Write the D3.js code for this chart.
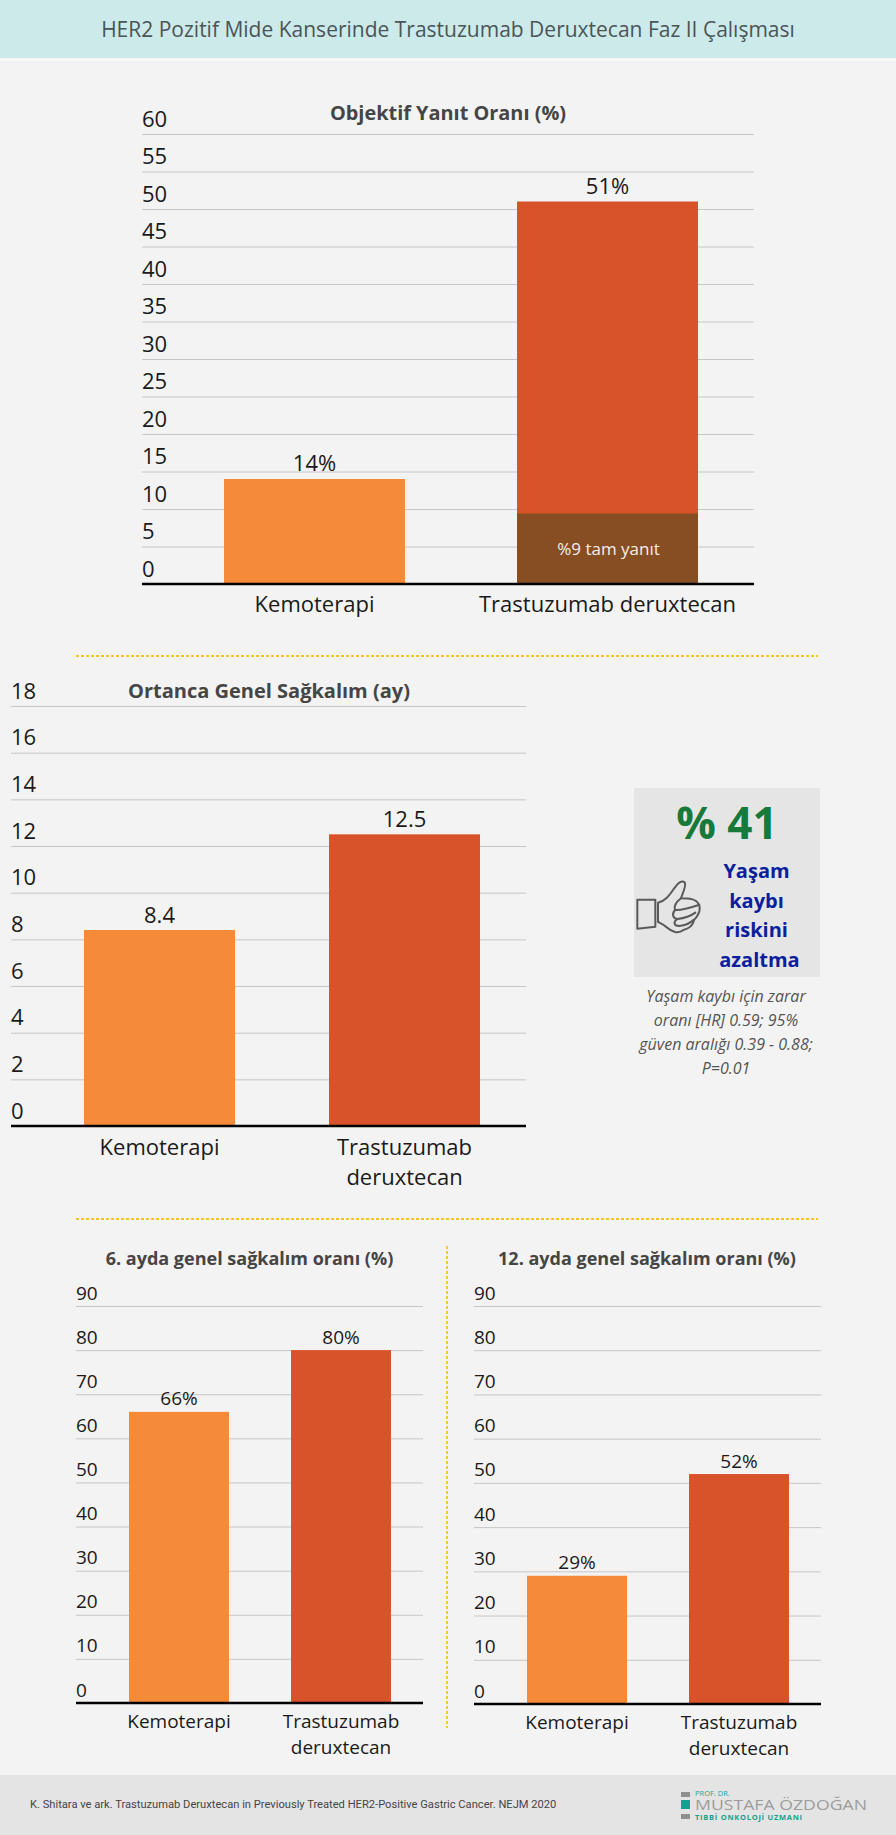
<!DOCTYPE html>
<html><head><meta charset="utf-8">
<script src="https://cdnjs.cloudflare.com/ajax/libs/d3/7.8.5/d3.min.js"></script>
<style>
html,body{margin:0;padding:0;background:#f3f3f3}
svg{display:block}
text{font-family:"Open Sans",sans-serif}
</style></head><body>
<svg id="c" width="896" height="1835"></svg>
<script>
const categories = ["Kemoterapi", "Trastuzumab deruxtecan"];
const responseValues = [14, 51];
const responseLabels = ["14%", "51%"];
const completeResponseValue = 9.4;
const completeResponseLabel = "%9 tam yanıt";
const responseTicks = [0,5,10,15,20,25,30,35,40,45,50,55,60];
const survivalValues = [8.4, 12.5];
const survivalLabels = ["8.4", "12.5"];
const survivalTicks = [0,2,4,6,8,10,12,14,16,18];
const sixMonthValues = [66, 80];
const sixMonthLabels = ["66%", "80%"];
const twelveMonthValues = [29, 52];
const twelveMonthLabels = ["29%", "52%"];
const rateTicks = [0,10,20,30,40,50,60,70,80,90];

const ORANGE="#f58a38", RED="#d9532a", BROWN="#874e24", INK="#1a1a1a", TITLE="#454545", GRID="#c6c6c6", GOLD="#f5c51f";
const svg=d3.select("#c");

function panel(o){
  const g=svg.append("g");
  const y=d3.scaleLinear().domain([0,d3.max(o.ticks)]).range([o.y0,o.y1]);
  const step=o.barRight-o.barLeft-o.barW;
  const p=(step-o.barW)/step;
  const x=d3.scaleBand().domain(categories)
    .range([o.barLeft-p*step,o.barRight+p*step]).padding(p);
  const ay=g.append("g").attr("transform",`translate(${o.x0},0)`)
    .call(d3.axisRight(y).tickValues(o.ticks).tickSize(o.x1-o.x0).tickFormat(d3.format("d")));
  ay.select(".domain").remove();
  ay.selectAll(".tick line").attr("stroke",GRID).attr("stroke-width",1);
  ay.selectAll(".tick text").attr("x",0).attr("dy",o.tickDy).attr("text-anchor","start")
    .attr("fill",INK).style("font-size",o.fs+"px");
  g.selectAll("rect.bar").data(o.values).join("rect").attr("class","bar")
    .attr("x",(d,i)=>x(categories[i])).attr("width",x.bandwidth())
    .attr("y",d=>y(d)).attr("height",d=>y(0)-y(d))
    .attr("fill",(d,i)=>i?RED:ORANGE);
  if(o.inner!=null){
    g.append("rect").attr("x",x(categories[1])).attr("width",x.bandwidth())
      .attr("y",y(o.inner)).attr("height",y(0)-y(o.inner)).attr("fill",BROWN);
    g.append("text").attr("x",x(categories[1])+x.bandwidth()/2+1).attr("y",y(o.inner/2)+6)
      .attr("text-anchor","middle").attr("fill","#f4f0e8").style("font-size","17px").text(o.innerLabel);
  }
  g.selectAll("text.val").data(o.labels).join("text").attr("class","val")
    .attr("x",(d,i)=>x(categories[i])+x.bandwidth()/2)
    .attr("y",(d,i)=>y(o.values[i])-o.valGap)
    .attr("text-anchor","middle").attr("fill",INK).style("font-size",o.fs+"px").text(d=>d);
  const ax=g.append("g").attr("transform",`translate(0,${o.y0})`)
    .call(d3.axisBottom(x).tickSize(0));
  ax.select(".domain").remove();
  ax.selectAll(".tick text").attr("fill",INK).style("font-size",o.fs+"px").attr("y",0).attr("dy",0)
    .each(function(d){
      const t=d3.select(this);t.text(null);
      const parts=o.wrap?d.split(" "):[d];
      parts.forEach((w,i)=>t.append("tspan").attr("x",0).attr("y",o.catBase+i*o.catLine).text(w));
    });
  g.append("line").attr("x1",o.x0).attr("x2",o.x1).attr("y1",o.y0).attr("y2",o.y0)
    .attr("stroke","#000").attr("stroke-width",2.4);
  g.append("text").attr("x",o.titleX).attr("y",o.titleY).attr("text-anchor","middle")
    .attr("fill",TITLE).style("font-size",o.titleFs+"px").style("font-weight",700).text(o.title);
}

svg.append("rect").attr("width",896).attr("height",58).attr("fill","#cdeaea");
svg.append("rect").attr("y",58).attr("width",896).attr("height",3).attr("fill","#f8f8f8");
svg.append("text").attr("x",448).attr("y",37).attr("text-anchor","middle").attr("fill","#4a5558")
  .style("font-size","21px").text("HER2 Pozitif Mide Kanserinde Trastuzumab Deruxtecan Faz II Çalışması");
svg.append("rect").attr("y",1775).attr("width",896).attr("height",60).attr("fill","#e4e4e4");
svg.append("text").attr("x",30).attr("y",1808).attr("fill","#444").style("font-family","Roboto").style("font-size","11.15px")
  .text("K. Shitara ve ark. Trastuzumab Deruxtecan in Previously Treated HER2-Positive Gastric Cancer. NEJM 2020");

function dash(x1,y1,x2,y2){svg.append("line").attr("x1",x1).attr("y1",y1).attr("x2",x2).attr("y2",y2)
  .attr("stroke",GOLD).attr("stroke-width",1.8).attr("stroke-dasharray","3 2");}
dash(76,656,818,656);dash(76,1219,818,1219);dash(447,1246,447,1728);

panel({ticks:responseTicks,values:responseValues,labels:responseLabels,inner:completeResponseValue,innerLabel:completeResponseLabel,
  x0:142,x1:754,y0:584,y1:134,barLeft:224,barRight:698,barW:181,fs:22,tickDy:"-8px",valGap:8,catBase:28,catLine:30,wrap:false,
  title:"Objektif Yanıt Oranı (%)",titleX:448,titleY:120,titleFs:19.9});
panel({ticks:survivalTicks,values:survivalValues,labels:survivalLabels,
  x0:11,x1:526,y0:1126,y1:706,barLeft:84,barRight:480,barW:151,fs:22,tickDy:"-8px",valGap:7,catBase:29,catLine:30,wrap:true,
  title:"Ortanca Genel Sağkalım (ay)",titleX:269,titleY:698,titleFs:20});
panel({ticks:rateTicks,values:sixMonthValues,labels:sixMonthLabels,
  x0:76,x1:423,y0:1703,y1:1306,barLeft:129,barRight:391,barW:100,fs:19,tickDy:"-7px",valGap:6.5,catBase:25,catLine:25.5,wrap:true,
  title:"6. ayda genel sağkalım oranı (%)",titleX:249.5,titleY:1265,titleFs:18});
panel({ticks:rateTicks,values:twelveMonthValues,labels:twelveMonthLabels,
  x0:474,x1:821,y0:1704,y1:1306,barLeft:527,barRight:789,barW:100,fs:19,tickDy:"-7px",valGap:6.5,catBase:25,catLine:25.5,wrap:true,
  title:"12. ayda genel sağkalım oranı (%)",titleX:647,titleY:1265,titleFs:18});

svg.append("rect").attr("x",634).attr("y",788).attr("width",186).attr("height",189).attr("fill","#e5e5e5");
svg.append("text").attr("x",727).attr("y",839).attr("text-anchor","middle").attr("fill","#17793a")
  .style("font-size","44px").style("font-weight",700).text("% 41");
["Yaşam","kaybı","riskini","azaltma"].forEach((t,i)=>svg.append("text")
  .attr("x",i==3?759.5:756.5).attr("y",878+i*29.5).attr("text-anchor","middle").attr("fill","#0b1f9c")
  .style("font-size","20px").style("font-weight",700).text(t));
["Yaşam kaybı için zarar","oranı [HR] 0.59; 95%","güven aralığı 0.39 - 0.88;","P=0.01"].forEach((t,i)=>svg.append("text")
  .attr("x",726).attr("y",1002+i*24).attr("text-anchor","middle").attr("fill","#555")
  .style("font-size","16px").style("font-style","italic").text(t));

const th=svg.append("g").attr("transform","translate(620,770) scale(0.3333)")
  .attr("fill","none").attr("stroke","#5a5a5a").attr("stroke-width",6).attr("stroke-linejoin","round").attr("stroke-linecap","round");
th.append("path").attr("d","M52 389H106V470L52 476Z");
th.append("path").attr("d","M114 398C140 392 150 372 165 352C175 338 186 330 194 337C200 345 190 365 183 385C205 385 228 385 238 405C243 425 232 440 222 450C218 470 200 478 190 480C175 492 155 486 140 472C130 462 122 460 114 456Z");
th.append("path").attr("d","M183 385C170 395 160 405 165 420C185 422 215 412 236 405");
th.append("path").attr("d","M165 420C155 432 158 445 172 447C190 445 210 440 226 428");
th.append("path").attr("d","M172 447C160 455 160 468 178 468C195 466 210 460 220 450");

svg.append("rect").attr("x",681).attr("y",1792).attr("width",9).attr("height",5).attr("fill","#8f8f8f");
svg.append("rect").attr("x",681).attr("y",1800).attr("width",9).attr("height",9).attr("fill","#17a08f");
svg.append("rect").attr("x",681).attr("y",1814).attr("width",9).attr("height",5).attr("fill","#8f8f8f");
svg.append("text").attr("x",695).attr("y",1796).attr("fill","#22a596").style("font-size","7.5px").text("PROF. DR.");
svg.append("text").attr("x",695).attr("y",1810).attr("fill","#9c9c9c").style("font-size","14px").attr("textLength",172).attr("lengthAdjust","spacingAndGlyphs").text("MUSTAFA ÖZDOĞAN");
svg.append("text").attr("x",695).attr("y",1820).attr("fill","#17a08f").style("font-size","7.5px").style("font-weight",700).attr("textLength",107).text("TIBBİ ONKOLOJİ UZMANI");
</script></body></html>
